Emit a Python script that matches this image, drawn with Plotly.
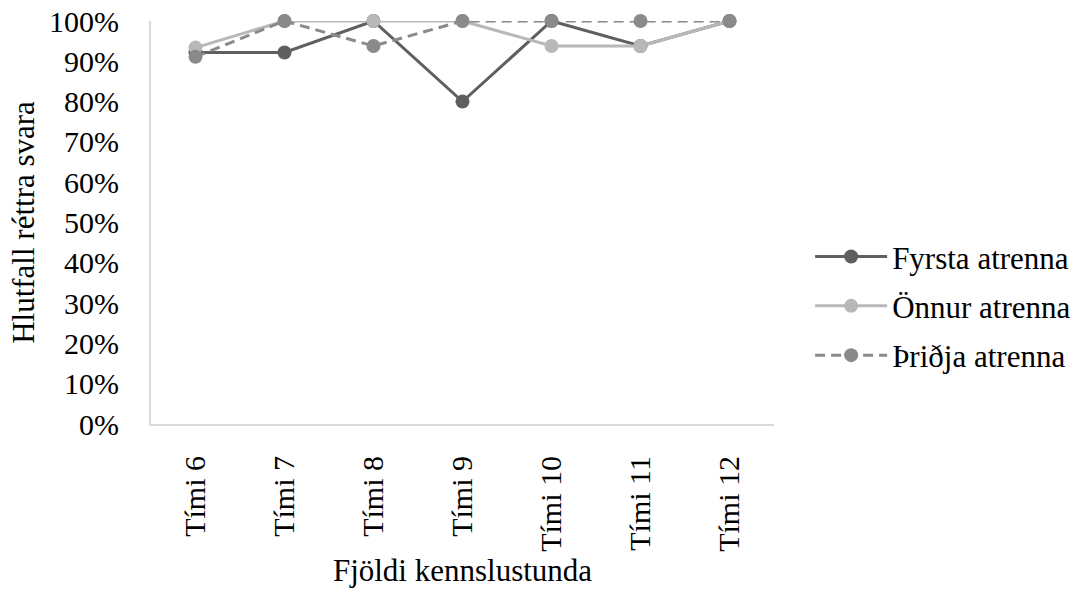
import plotly.graph_objects as go

categories = ["Tími 6", "Tími 7", "Tími 8", "Tími 9", "Tími 10", "Tími 11", "Tími 12"]
fyrsta = [0.922, 0.922, 1.0, 0.80, 1.0, 0.938, 1.0]
onnur = [0.934, 1.0, 1.0, 1.0, 0.938, 0.938, 1.0]
thridja = [0.911, 1.0, 0.938, 1.0, 1.0, 1.0, 1.0]
series_names = ["Fyrsta atrenna", "Önnur atrenna", "Þriðja atrenna"]
y_ticks = [0, 0.1, 0.2, 0.3, 0.4, 0.5, 0.6, 0.7, 0.8, 0.9, 1.0]

font_family = "Liberation Serif, Times New Roman, serif"

fig = go.Figure()
styles = [
    dict(color="#5f5f5f", dash="solid"),
    dict(color="#b8b8b8", dash="solid"),
    dict(color="#8a8a8a", dash="10px,6px"),
]
for name, vals, st in zip(series_names, [fyrsta, onnur, thridja], styles):
    fig.add_trace(go.Scatter(
        x=categories, y=vals, name=name, mode="lines+markers",
        legendgroup=name,
        line=dict(color=st["color"], width=3, dash=st["dash"]),
        marker=dict(color=st["color"], size=14),
        cliponaxis=False,
    ))

fig.update_layout(
    width=1081, height=592,
    margin=dict(l=151, r=307, t=21, b=168, autoexpand=False),
    paper_bgcolor="white", plot_bgcolor="white",
    font=dict(family=font_family, size=30, color="black"),
    showlegend=True,
    legend=dict(x=1.058, xanchor="left", y=0.293, yanchor="middle",
                font=dict(size=31), itemwidth=72, tracegroupgap=6,
                bgcolor="rgba(0,0,0,0)"),
    xaxis=dict(
        type="category", range=[-0.5, 6.5], tickangle=-90,
        showline=True, linecolor="#d9d9d9", linewidth=2,
        showgrid=False, ticks="", tickfont=dict(size=30),
        ticklabelstandoff=18, automargin=False,
        title=dict(text="Fjöldi kennslustunda", font=dict(size=31), standoff=8),
    ),
    yaxis=dict(
        range=[0, 1.0], tickvals=y_ticks, tickformat=".0%",
        showline=True, linecolor="#d9d9d9", linewidth=2,
        showgrid=False, ticks="", zeroline=False, tickfont=dict(size=30),
        ticklabelstandoff=24, automargin=False,
        title=dict(text="Hlutfall réttra svara", font=dict(size=31), standoff=5),
    ),
)

fig.write_html("out.html")
